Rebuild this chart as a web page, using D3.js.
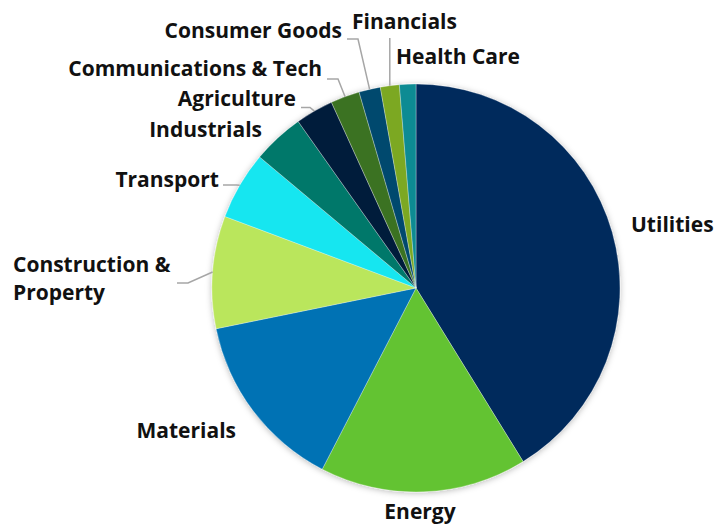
<!DOCTYPE html>
<html>
<head>
<meta charset="utf-8">
<script src="https://cdn.jsdelivr.net/npm/d3@7"></script>
<style>
  html, body { margin: 0; padding: 0; background: #fff; }
  svg { display: block; }
  .lbl { font-family: "Open Sans", "Noto Sans", sans-serif; font-weight: 700; font-size: 21px; fill: #111; }
</style>
</head>
<body>
<svg id="chart" width="716" height="526"></svg>
<script>
// Sector shares, clockwise from 12 o'clock
const sectors = ["Utilities", "Energy", "Materials", "Construction & Property", "Transport",
  "Industrials", "Agriculture", "Communications & Tech", "Consumer Goods", "Financials", "Health Care"];
const shares = [41.2, 16.4, 14.2, 8.9, 5.4, 4.1, 3.0, 2.3, 1.7, 1.5, 1.3];
const colours = ["#002A5C", "#63C332", "#0072B4", "#BAE65B", "#14E6F0",
  "#00786A", "#001B3B", "#3B7222", "#00496E", "#7BA823", "#0C8B93"];

// Label text lines, placement and leader-line elbows
const labelLines = [["Utilities"], ["Energy"], ["Materials"], ["Construction &", "Property"], ["Transport"],
  ["Industrials"], ["Agriculture"], ["Communications & Tech"], ["Consumer Goods"], ["Financials"], ["Health Care"]];
const labelLayout = [
  { x: 631, y: 232, anchor: "start" },
  { x: 420, y: 519, anchor: "middle" },
  { x: 236, y: 438, anchor: "end" },
  { x: 13,  y: 272, anchor: "start", leader: { endX: 177, elbowX: 188, y: 283 } },
  { x: 219, y: 187, anchor: "end",   leader: { endX: 223, elbowX: 236.5, y: 185 } },
  { x: 262, y: 137, anchor: "end" },
  { x: 296, y: 106, anchor: "end",   leader: { endX: 301, elbowX: 310, y: 107.5 } },
  { x: 322, y: 76,  anchor: "end",   leader: { endX: 327, elbowX: 338, y: 79 } },
  { x: 342, y: 38,  anchor: "end",   leader: { endX: 347, elbowX: 358, y: 39 } },
  { x: 352, y: 29,  anchor: "start", leader: { vertical: true, y: 38 } },
  { x: 396, y: 64,  anchor: "start" }
];

const cx = 416, cy = 288, radius = 204;
const svg = d3.select("#chart");

const defs = svg.append("defs");
const f = defs.append("filter").attr("id", "halo")
  .attr("x", "-10%").attr("y", "-10%").attr("width", "120%").attr("height", "120%");
f.append("feDropShadow").attr("dx", 0).attr("dy", 1).attr("stdDeviation", 3)
  .attr("flood-color", "#000").attr("flood-opacity", 0.28);

const data = sectors.map((s, i) => ({ name: s, value: shares[i], color: colours[i], i }));
const pie = d3.pie().value(d => d.value).sort(null);
const arcs = pie(data);
const arc = d3.arc().innerRadius(0).outerRadius(radius);

const g = svg.append("g").attr("transform", `translate(${cx},${cy})`);
g.append("g").attr("filter", "url(#halo)")
  .selectAll("path").data(arcs).join("path")
  .attr("d", arc)
  .attr("fill", d => d.data.color)
  .attr("stroke", "#fff").attr("stroke-width", 0.6).attr("stroke-opacity", 0.5);

// leader lines: from the slice's outer edge at its mid-angle to the label
const edgePoint = d => {
  const a = (d.startAngle + d.endAngle) / 2;
  return [cx + radius * Math.sin(a), cy - radius * Math.cos(a)];
};
const leaders = svg.append("g").attr("fill", "none").attr("stroke", "#A6A6A6").attr("stroke-width", 1.5);
arcs.forEach((d, i) => {
  const L = labelLayout[i].leader;
  if (!L) return;
  const [px, py] = edgePoint(d);
  const pts = L.vertical ? [[px, py], [px, L.y]] : [[px, py], [L.elbowX, L.y], [L.endX, L.y]];
  leaders.append("path").attr("d", d3.line()(pts));
});

// labels
const labels = svg.append("g");
labelLines.forEach((lines, i) => {
  const p = labelLayout[i];
  const t = labels.append("text").attr("class", "lbl")
    .attr("x", p.x).attr("y", p.y).attr("text-anchor", p.anchor);
  lines.forEach((ln, k) => {
    t.append("tspan").attr("x", p.x).attr("dy", k === 0 ? 0 : 28).text(ln);
  });
});
</script>
</body>
</html>
